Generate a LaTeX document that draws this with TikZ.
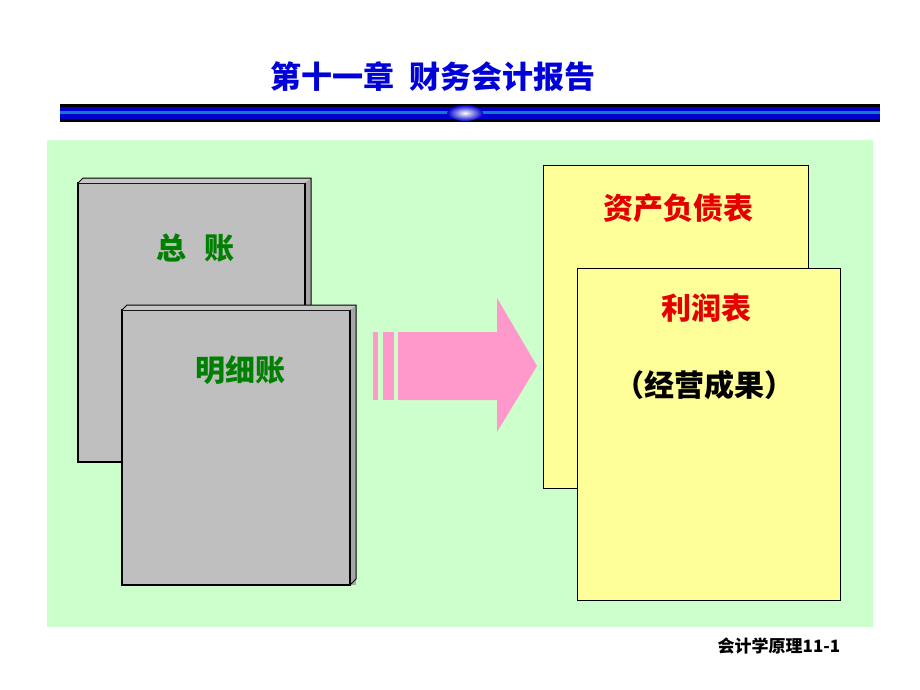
\documentclass[tikz,border=0pt]{standalone}
\usepackage{fontspec}
\newfontfamily\cjk{Noto Sans CJK SC}
\setmainfont{Liberation Serif}
\definecolor{pinkarrow}{HTML}{FF99CC}
\definecolor{bgreen}{HTML}{CCFFCC}
\definecolor{ycol}{HTML}{FFFF99}
\begin{document}
\begin{tikzpicture}[x=1pt,y=-1pt,
  gcard/.style={fill=gray!50!white,draw=black,line width=1.2pt},
  ycard/.style={fill=ycol,draw=black,line width=1pt},
  cn/.style={font=\cjk\fontsize{30}{32}\selectfont\bfseries}]
\useasboundingbox (0,0) rectangle (920,690);
\fill[white] (0,0) rectangle (920,690);
\node[font=\cjk\fontsize{31}{33}\selectfont\bfseries,text=blue!85!black] (title) at (433,77) {第十一章\ \ 财务会计报告};
\fill[black] (60,104) rectangle (880,122);
\fill[blue!80!black] (60,107) rectangle (880,119);
\fill[cyan!60!blue] (60,111.5) rectangle (880,114.5);
\shade[inner color=white,outer color=blue!80!black] (465,113) ellipse (18 and 8);
\fill[bgreen] (47,140) rectangle (873,627);
% gray cards
\fill[gray!70] (83,178) rectangle (311,462);
\draw[gcard] (78,183) rectangle (305,462);
\fill[gray!45] (78,183) -- (83,178) -- (311,178) -- (305,183) -- cycle;
\draw[line width=1pt] (78,183) -- (83,178) -- (311,178) -- (311,456) -- (305,462);
\node[cn,text=green!50!black] (zz) at (195,248) {总\hspace{18pt}账};
\fill[gray!70] (127,305) rectangle (356,585);
\draw[gcard] (122,310) rectangle (350,585);
\fill[gray!45] (122,310) -- (127,305) -- (356,305) -- (350,310) -- cycle;
\draw[line width=1pt] (122,310) -- (127,305) -- (356,305) -- (356,579) -- (350,585);
\node[cn,text=green!50!black] (mx) at (240,370) {明细账};
% arrow
\fill[pinkarrow] (373,332) rectangle (378,400);
\fill[pinkarrow] (383,332) rectangle (394,400);
\fill[pinkarrow] (398,332) -- (497,332) -- (497,298) -- (537,366) -- (497,432) -- (497,400) -- (398,400) -- cycle;
% yellow cards
\draw[ycard] (543,165) rectangle (808,488);
\node[cn,text=red!90!black] (zc) at (678,208) {资产负债表};
\draw[ycard] (577,268) rectangle (840,600);
\node[cn,text=red!90!black] (lr) at (706,308) {利润表};
\node[cn,text=black] (jy) at (704,385) {（经营成果）};
\node[font=\cjk\fontsize{17}{18}\selectfont\bfseries] (ft) at (779,646) {会计学原理\textbf{11-1}};
\end{tikzpicture}
\end{document}
